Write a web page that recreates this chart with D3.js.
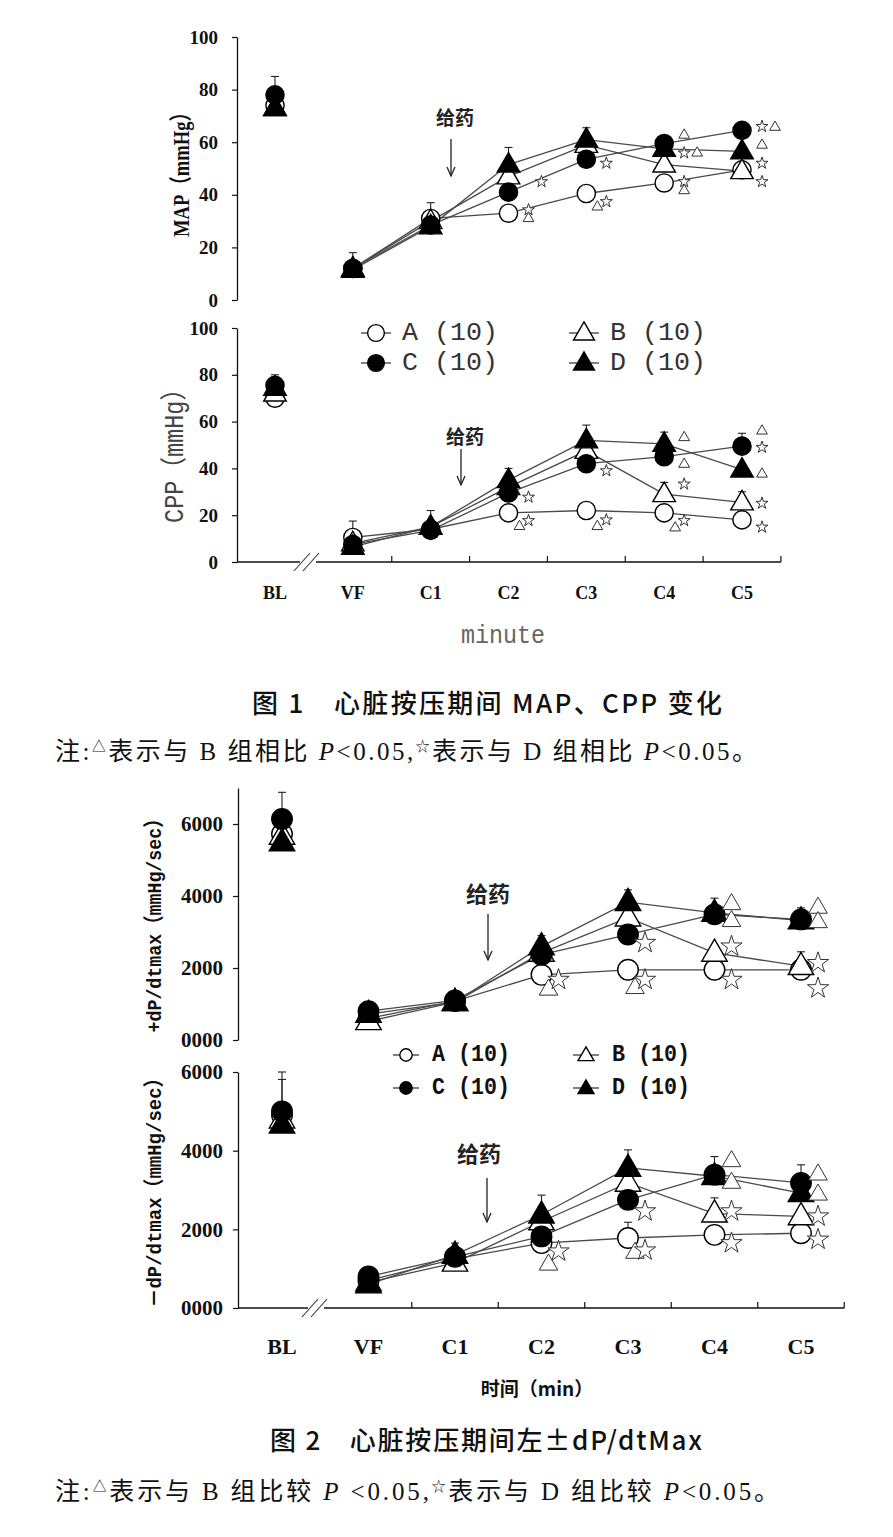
<!DOCTYPE html>
<html><head><meta charset="utf-8">
<script src="https://cdn.jsdelivr.net/npm/d3@7/dist/d3.min.js"></script>
<style>body{margin:0;background:#fff}</style>
</head><body>
<svg id="c" width="893" height="1537" xmlns="http://www.w3.org/2000/svg"></svg>
<script>
// ---------------- DATA ----------------
const cats = ["BL","VF","C1","C2","C3","C4","C5"];
const groupNames = ["A (10)","B (10)","C (10)","D (10)"];

// Figure 1 - MAP (mmHg)
const mapA = [74, 12, 31, 33, 40.5, 44.5, 49.5];
const mapB = [73, 12, 30, 47, 59, 51.5, 49];
const mapC = [78, 12, 28.5, 41, 53.5, 59.5, 64.5];
const mapD = [73, 11.5, 28, 51.5, 61, 57.5, 56.5];
const mapErrA = [0, 0, 6, 0, 0, 0, 0];
const mapErrB = [0, 0, 0, 0, 0, 0, 0];
const mapErrC = [7, 0, 0, 0, 0, 0, 0];
const mapErrD = [0, 6.5, 0, 6.5, 4.5, 0, 0];
const mapSigTri  = [["C2",31,0],["C3",35.4,-1],["C4",62.7,0],["C4",55.9,1],["C4",41.6,0],["C5",65.7,1],["C5",58.9,0]];
const mapSigStar = [["C2",45,1],["C2",34.3,0],["C3",52,0],["C3",37.4,0],["C4",55.9,0],["C4",45,0],["C5",66,0],["C5",52,0],["C5",45,0]];

// Figure 1 - CPP (mmHg)
const cppA = [70, 10.5, 14, 21, 22, 21, 18];
const cppB = [72, 8, 15, 32, 47.5, 29, 25.5];
const cppC = [75.5, 7.5, 13.5, 29.5, 42, 45, 49.5];
const cppD = [74.5, 6.5, 15, 35, 52, 50.5, 39.5];
const cppErrA = [0, 7, 0, 0, 0, 0, 0];
const cppErrB = [0, 0, 0, 0, 0, 5, 4.5];
const cppErrC = [4.5, 0, 0, 0, 0, 0, 5.5];
const cppErrD = [0, 0, 7, 5, 6.5, 5, 0];
const cppSigTri  = [["C2",15.2,-1],["C3",15.2,-1],["C4",53.2,0],["C4",41.8,0],["C4",14.6,-1],["C5",56,0],["C5",37.6,0]];
const cppSigStar = [["C2",27.7,0],["C2",17.7,0],["C3",39,0],["C3",18,0],["C4",33.3,0],["C4",17.7,0],["C5",49,0],["C5",25.1,0],["C5",14.9,0]];

// Figure 2 - +dP/dtmax (mmHg/sec)
const dpA = [5720, 600, 1080, 1810, 1950, 1950, 1950];
const dpB = [5670, 520, 1050, 2420, 3400, 2420, 2050];
const dpC = [6140, 800, 1100, 2370, 2930, 3490, 3350];
const dpD = [5490, 720, 1050, 2600, 3830, 3530, 3320];
const dpErrA = [0, 0, 0, 0, 0, 0, 0];
const dpErrB = [0, 0, 0, 0, 0, 0, 400];
const dpErrC = [740, 0, 0, 0, 0, 450, 0];
const dpErrD = [0, 0, 0, 300, 340, 0, 350];
const dpSigTri  = [["C2",1395,-1],["C3",1440,-1],["C4",3770,0],["C4",3300,0],["C5",3670,0],["C5",3270,0]];
const dpSigStar = [["C2",1674,0],["C3",2700,0],["C3",1674,0],["C4",2600,0],["C4",1674,0],["C5",2140,0],["C5",1440,0]];

// Figure 2 - -dP/dtmax (mmHg/sec)
const dnA = [4900, 700, 1250, 1650, 1780, 1860, 1900];
const dnB = [4790, 650, 1150, 2200, 3180, 2400, 2330];
const dnC = [5000, 800, 1300, 1820, 2750, 3390, 3180];
const dnD = [4660, 600, 1350, 2370, 3560, 3350, 2920];
const dnErrA = [0, 0, 0, 0, 400, 0, 0];
const dnErrB = [0, 0, 0, 0, 0, 400, 0];
const dnErrC = [1000, 0, 0, 0, 0, 460, 460];
const dnErrD = [1150, 0, 300, 500, 460, 0, 0];
const dnSigTri  = [["C2",1100,-1],["C3",1400,-1],["C4",3730,0],["C4",3180,0],["C5",3390,0],["C5",2880,0]];
const dnSigStar = [["C2",1440,0],["C3",2460,0],["C3",1465,0],["C4",2460,0],["C4",1650,0],["C5",2330,0],["C5",1740,0]];

const ticks1 = [0, 20, 40, 60, 80, 100];
const ticks2 = [0, 2000, 4000, 6000];

// ---------------- DRAW ----------------
const svg = d3.select("#c");
const LINE = "#4a4a4a";
const SERIF = "'Liberation Serif', 'Noto Sans CJK SC', serif";
const MONO = "'Liberation Mono', 'Noto Sans CJK SC', monospace";
const CJK = "'Noto Sans CJK SC', sans-serif";

const mtypes = [
  {sym: d3.symbolCircle, fill: "#fff"},
  {sym: d3.symbolTriangle, fill: "#fff"},
  {sym: d3.symbolCircle, fill: "#000"},
  {sym: d3.symbolTriangle, fill: "#000"}
];

function drawMarker(g, t, x, y, sCirc, sTri) {
  const m = mtypes[t];
  const size = (m.sym === d3.symbolCircle) ? sCirc : sTri;
  const dy = (m.sym === d3.symbolTriangle) ? 1 : 0;
  g.append("path").attr("d", d3.symbol(m.sym, size)())
    .attr("transform", `translate(${x},${y + dy})`)
    .attr("fill", m.fill).attr("stroke", "#000").attr("stroke-width", 1.4);
}

function drawPanel(p) {
  const g = svg.append("g");
  const ax = g.append("g").attr("transform", `translate(${p.axisX},0)`)
    .call(d3.axisLeft(p.y).tickValues(p.ticks).tickSize(5).tickSizeOuter(0).tickPadding(p.pad).tickFormat(p.fmt));
  ax.select(".domain").attr("stroke", "#111").attr("stroke-width", 1.3);
  ax.selectAll(".tick line").attr("stroke", "#111").attr("stroke-width", 1.2);
  ax.selectAll(".tick text").attr("font-family", SERIF).attr("font-weight", "bold")
    .attr("font-size", p.tickFs).attr("fill", "#111");

  if (p.xAxis) {
    const y0 = p.y(0);
    const step = p.x.step();
    const xEnd = p.x("C5") + step / 2;
    g.append("line").attr("x1", p.axisX).attr("x2", p.brk - 6).attr("y1", y0).attr("y2", y0)
      .attr("stroke", "#111").attr("stroke-width", 1.3);
    g.append("line").attr("x1", p.brk + 10).attr("x2", xEnd).attr("y1", y0).attr("y2", y0)
      .attr("stroke", "#111").attr("stroke-width", 1.3);
    [p.brk - 4, p.brk + 5].forEach(bx => {
      g.append("line").attr("x1", bx - 8).attr("y1", y0 + 9).attr("x2", bx + 8).attr("y2", y0 - 9)
        .attr("stroke", "#333").attr("stroke-width", 1.1);
    });
    cats.slice(1).forEach(c => {
      const tx = p.x(c) + step / 2;
      g.append("line").attr("x1", tx).attr("x2", tx).attr("y1", y0).attr("y2", y0 - 6)
        .attr("stroke", "#111").attr("stroke-width", 1.2);
    });
  }

  p.series.forEach(s => {
    const pts = cats.map((c, j) => [c, s.vals[j]]).slice(1);
    g.append("path").attr("d", d3.line().x(d => p.x(d[0])).y(d => p.y(d[1]))(pts))
      .attr("fill", "none").attr("stroke", LINE).attr("stroke-width", 1.3);
  });
  p.series.forEach(s => {
    cats.forEach((c, j) => {
      const e = s.err[j];
      if (!e) return;
      const x = p.x(c), y1 = p.y(s.vals[j]), y2 = p.y(s.vals[j] + e);
      g.append("line").attr("x1", x).attr("x2", x).attr("y1", y1).attr("y2", y2)
        .attr("stroke", "#222").attr("stroke-width", 1.1);
      g.append("line").attr("x1", x - 4).attr("x2", x + 4).attr("y1", y2).attr("y2", y2)
        .attr("stroke", "#222").attr("stroke-width", 1.1);
    });
  });
  p.series.forEach((s, i) => {
    cats.forEach((c, j) => drawMarker(g, i, p.x(c), p.y(s.vals[j]), p.sCirc, p.sTri));
  });
  const dxOf = slot => slot < 0 ? p.sigDx[0] : (slot > 0 ? p.sigDx[2] : p.sigDx[1]);
  p.sigTri.forEach(d => {
    g.append("path").attr("d", d3.symbol(d3.symbolTriangle, p.sigTriSize)())
      .attr("transform", `translate(${p.x(d[0]) + dxOf(d[2])},${p.y(d[1])})`)
      .attr("fill", "#fff").attr("stroke", "#333").attr("stroke-width", 1);
  });
  p.sigStar.forEach(d => {
    g.append("path").attr("d", d3.symbol(d3.symbolStar, p.sigStarSize)())
      .attr("transform", `translate(${p.x(d[0]) + dxOf(d[2])},${p.y(d[1])})`)
      .attr("fill", "#fff").attr("stroke", "#333").attr("stroke-width", 1);
  });
  const a = p.drug;
  g.append("text").attr("x", a.tx).attr("y", a.ty).attr("text-anchor", "middle")
    .attr("dominant-baseline", "central").attr("font-family", CJK).attr("font-weight", "bold")
    .attr("font-size", a.fs).attr("fill", "#222").text("给药");
  g.append("line").attr("x1", a.ax).attr("x2", a.ax).attr("y1", a.y1).attr("y2", a.y2)
    .attr("stroke", "#222").attr("stroke-width", 1.3);
  g.append("path").attr("d", `M${a.ax - 4},${a.y2 - 9} L${a.ax},${a.y2} L${a.ax + 4},${a.y2 - 9}`)
    .attr("fill", "none").attr("stroke", "#222").attr("stroke-width", 1.3);
  return g;
}

function drawLegend(lg) {
  const g = svg.append("g");
  groupNames.forEach((name, i) => {
    const col = i % 2, row = Math.floor(i / 2);
    const mx = lg.mx[col], y = lg.rows[row];
    g.append("line").attr("x1", mx - lg.half).attr("x2", mx + lg.half).attr("y1", y).attr("y2", y)
      .attr("stroke", LINE).attr("stroke-width", 1.4);
    drawMarker(g, i, mx, y, lg.sCirc, lg.sTri);
    g.append("text").attr("x", mx + lg.tdx).attr("y", y).attr("dominant-baseline", "central")
      .attr("font-family", MONO).attr("font-weight", lg.bold ? "bold" : "normal")
      .attr("font-size", lg.fs).attr("fill", lg.color)
      .attr("textLength", lg.tlen).attr("lengthAdjust", "spacingAndGlyphs").text(name);
  });
}

function vLabel(x, y, txt, o) {
  svg.append("text").attr("transform", `translate(${x},${y}) rotate(-90)`)
    .attr("text-anchor", "middle").attr("dominant-baseline", "central")
    .attr("font-family", o.ff).attr("font-weight", o.bold ? "bold" : "normal")
    .attr("font-size", o.fs).attr("fill", o.color)
    .attr("textLength", o.len).attr("lengthAdjust", "spacingAndGlyphs").text(txt);
}

function catLabels(x, y, fs) {
  cats.forEach(c => svg.append("text").attr("x", x(c)).attr("y", y).attr("text-anchor", "middle")
    .attr("font-family", SERIF).attr("font-weight", "bold").attr("font-size", fs).attr("fill", "#111").text(c));
}

function caption(x, y, len, parts, fs, ff, weight) {
  const t = svg.append("text").attr("x", x).attr("y", y).attr("font-family", ff)
    .attr("font-size", fs).attr("fill", "#111").attr("font-weight", weight || "normal")
    .attr("textLength", len).attr("lengthAdjust", "spacing");
  parts.forEach(pt => {
    const s = t.append("tspan").text(pt.t);
    if (pt.i) s.attr("font-style", "italic");
    if (pt.sup) s.attr("font-size", fs * 0.55).attr("dy", -9);
    if (pt.down) s.attr("dy", 9);
  });
}

// ===== Figure 1 =====
const x1 = d3.scalePoint().domain(cats).range([275, 742]);
const yMap = d3.scaleLinear().domain([0, 100]).range([300, 37]);
const yCpp = d3.scaleLinear().domain([0, 100]).range([562, 328]);
const fmt1 = d3.format("d");

drawPanel({x: x1, y: yMap, axisX: 237, ticks: ticks1, fmt: fmt1, tickFs: 19, pad: 14, xAxis: false,
  series: [{vals: mapA, err: mapErrA}, {vals: mapB, err: mapErrB}, {vals: mapC, err: mapErrC}, {vals: mapD, err: mapErrD}],
  sCirc: 260, sTri: 220, sigTri: mapSigTri, sigStar: mapSigStar, sigDx: [11, 20, 33], sigTriSize: 50, sigStarSize: 45,
  drug: {tx: 455, ty: 116, fs: 19, ax: 451, y1: 139, y2: 176}});
drawPanel({x: x1, y: yCpp, axisX: 237, ticks: ticks1, fmt: fmt1, tickFs: 19, pad: 14, xAxis: true, brk: 306,
  series: [{vals: cppA, err: cppErrA}, {vals: cppB, err: cppErrB}, {vals: cppC, err: cppErrC}, {vals: cppD, err: cppErrD}],
  sCirc: 260, sTri: 220, sigTri: cppSigTri, sigStar: cppSigStar, sigDx: [11, 20, 33], sigTriSize: 50, sigStarSize: 45,
  drug: {tx: 465, ty: 435, fs: 19, ax: 461, y1: 449, y2: 485}});
drawLegend({mx: [376, 584], half: 15, rows: [333, 363], tdx: 26, fs: 25, tlen: 96, sCirc: 220, sTri: 190, bold: false, color: "#333"});
vLabel(181, 170, "MAP（mmHg）", {ff: SERIF, bold: true, fs: 23, color: "#111", len: 134});
vLabel(176, 450, "CPP（mmHg）", {ff: MONO, bold: false, fs: 27, color: "#444", len: 146});
catLabels(x1, 599, 18);
svg.append("text").attr("x", 503).attr("y", 643).attr("text-anchor", "middle")
  .attr("font-family", MONO).attr("font-size", 26).attr("fill", "#666")
  .attr("textLength", 84).attr("lengthAdjust", "spacingAndGlyphs").text("minute");

caption(252, 713, 470, [{t: "图 1　心脏按压期间 MAP、CPP 变化"}], 26, CJK, 500);
caption(55, 760, 702, [
  {t: "注:"}, {t: "△", sup: true}, {t: "表示与 B 组相比 ", down: true}, {t: "P", i: true}, {t: "<0.05,"},
  {t: "☆", sup: true}, {t: "表示与 D 组相比 ", down: true}, {t: "P", i: true}, {t: "<0.05。"}], 25, SERIF);

// ===== Figure 2 =====
const x2 = d3.scalePoint().domain(cats).range([282, 801]);
const yDp = d3.scaleLinear().domain([0, 7000]).range([1040, 788]);
const yDn = d3.scaleLinear().domain([0, 6000]).range([1308, 1072]);
const fmt2 = d3.format("04d");

drawPanel({x: x2, y: yDp, axisX: 238, ticks: ticks2, fmt: fmt2, tickFs: 21, pad: 10, xAxis: false,
  series: [{vals: dpA, err: dpErrA}, {vals: dpB, err: dpErrB}, {vals: dpC, err: dpErrC}, {vals: dpD, err: dpErrD}],
  sCirc: 330, sTri: 280, sigTri: dpSigTri, sigStar: dpSigStar, sigDx: [7, 17, 29], sigTriSize: 150, sigStarSize: 140,
  drug: {tx: 488, ty: 892, fs: 22, ax: 488, y1: 914, y2: 960}});
drawPanel({x: x2, y: yDn, axisX: 238, ticks: ticks2, fmt: fmt2, tickFs: 21, pad: 10, xAxis: true, brk: 314,
  series: [{vals: dnA, err: dnErrA}, {vals: dnB, err: dnErrB}, {vals: dnC, err: dnErrC}, {vals: dnD, err: dnErrD}],
  sCirc: 330, sTri: 280, sigTri: dnSigTri, sigStar: dnSigStar, sigDx: [7, 17, 29], sigTriSize: 150, sigStarSize: 140,
  drug: {tx: 479, ty: 1152, fs: 22, ax: 487, y1: 1178, y2: 1222}});
drawLegend({mx: [406, 586], half: 13, rows: [1055, 1088], tdx: 26, fs: 23, tlen: 78, sCirc: 120, sTri: 110, bold: true, color: "#111"});
vLabel(155, 921, "+dP/dtmax（mmHg/sec）", {ff: MONO, bold: true, fs: 21, color: "#111", len: 223});
vLabel(155, 1188, "－dP/dtmax（mmHg/sec）", {ff: MONO, bold: true, fs: 21, color: "#111", len: 239});
catLabels(x2, 1354, 22);
svg.append("text").attr("x", 537).attr("y", 1396).attr("text-anchor", "middle")
  .attr("font-family", CJK).attr("font-weight", "bold").attr("font-size", 19).attr("fill", "#111")
  .text("时间（min）");
caption(270, 1450, 432, [{t: "图 2　心脏按压期间左±dP/dtMax"}], 26, CJK, 500);
caption(55, 1500, 724, [
  {t: "注:"}, {t: "△", sup: true}, {t: "表示与 B 组比较 ", down: true}, {t: "P", i: true}, {t: " <0.05,"},
  {t: "☆", sup: true}, {t: "表示与 D 组比较 ", down: true}, {t: "P", i: true}, {t: "<0.05。"}], 25, SERIF);
</script>
</body></html>
